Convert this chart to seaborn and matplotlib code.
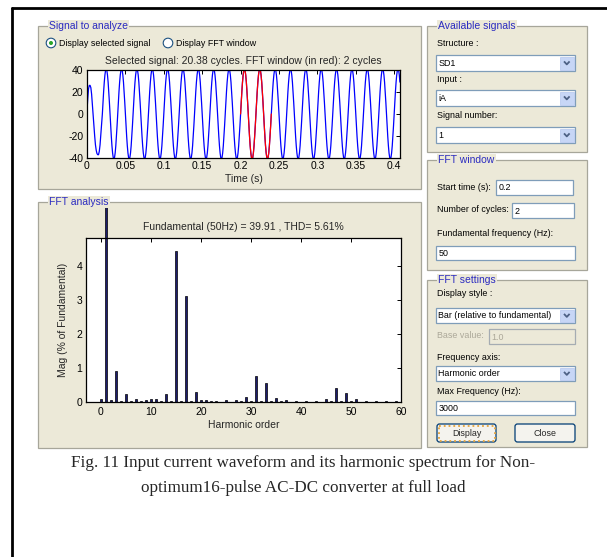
import numpy as np
import pandas as pd
import matplotlib
matplotlib.use("Agg")
import matplotlib.pyplot as plt
import seaborn as sns
from matplotlib.patches import Rectangle, FancyBboxPatch, Circle
from matplotlib.ticker import FormatStrFormatter
from matplotlib.transforms import Bbox, TransformedBbox

# --- signal to analyze ---
# start-up part, first 20 ms
t_start = [0.000, 0.001, 0.002, 0.003, 0.004, 0.005, 0.006, 0.007, 0.008, 0.009,
           0.010, 0.011, 0.012, 0.013, 0.014, 0.015, 0.016, 0.017, 0.018, 0.019]
i_start = [3, 14, 23, 26, 26, 24, 18, 9, -1, -11,
           -20, -28, -33, -36, -37, -37, -34, -28, -19, -9]
# one steady-state cycle (50 Hz), 24 samples
cycle_vals = [0, 10.6, 20.5, 29.0, 35.5, 39.6, 41.0, 39.6, 35.5, 29.0, 20.5, 10.6,
              0, -10.6, -20.5, -29.0, -35.5, -39.6, -41.0, -39.6, -35.5, -29.0, -20.5, -10.6]
cycle_t0 = 0.02
cycle_dt = 0.02 / 24
sig_end = 0.4076
fft_start = 0.2
fft_end = 0.24

# --- harmonic spectrum (% of fundamental) ---
orders = list(range(0, 61))
mags = [0.08, 100.0, 0.05, 0.92, 0.03, 0.24, 0.02, 0.10, 0.02, 0.07,
        0.08, 0.09, 0.02, 0.24, 0.02, 4.43, 0.02, 3.13, 0.02, 0.29,
        0.05, 0.07, 0.02, 0.03, 0.01, 0.05, 0.01, 0.05, 0.02, 0.15,
        0.04, 0.76, 0.03, 0.57, 0.02, 0.12, 0.02, 0.06, 0.01, 0.02,
        0.01, 0.02, 0.01, 0.02, 0.01, 0.10, 0.02, 0.40, 0.02, 0.27,
        0.02, 0.08, 0.01, 0.04, 0.01, 0.03, 0.01, 0.02, 0.01, 0.02, 0.01]

sig_title = "Selected signal: 20.38 cycles. FFT window (in red): 2 cycles"
fft_title = "Fundamental (50Hz) = 39.91 , THD= 5.61%"
caption1 = "Fig. 11 Input current waveform and its harmonic spectrum for Non-"
caption2 = "optimum16-pulse AC-DC converter at full load"

W, H = 607, 557
BEIGE = "#ECE9D8"
BLUE = "#2B2BC0"
GUI_FS = 6.4

sns.set_theme(style="white")
plt.rcParams['font.family'] = ['Liberation Sans', 'DejaVu Sans']
plt.rcParams['axes.unicode_minus'] = False

# build signal table
n_steady = int(round((sig_end - cycle_t0) / cycle_dt)) + 1
t_steady = [cycle_t0 + k * cycle_dt for k in range(n_steady)]
i_steady = [cycle_vals[k % len(cycle_vals)] for k in range(n_steady)]
sig = pd.DataFrame({"t": t_start + t_steady, "i": i_start + i_steady})
win = sig[(sig.t >= fft_start) & (sig.t <= fft_end)]
spec = pd.DataFrame({"order": orders, "mag": mags})

fig = plt.figure(figsize=(W / 100, H / 100), dpi=100)
fig.patch.set_facecolor("white")

# pixel-coordinate layer for the GUI controls
gui = fig.add_axes([0, 0, 1, 1], zorder=0)
gui.set_xlim(0, W)
gui.set_ylim(H, 0)
gui.axis("off")


def panel(x0, y0, x1, y1, title):
    gui.add_patch(Rectangle((x0, y0), x1 - x0, y1 - y0, facecolor=BEIGE,
                            edgecolor="#A7A69A", lw=0.9))
    gui.text(x0 + 11, y0, title, color=BLUE, fontsize=7.5, ha="left", va="center",
             bbox=dict(boxstyle="square,pad=0.12", fc=BEIGE, ec="none"))


def label(x, y, s, color="black"):
    gui.text(x, y, s, fontsize=GUI_FS, ha="left", va="center", color=color)


def textbox(x0, y0, x1, y1, s, disabled=False):
    gui.add_patch(Rectangle((x0, y0), x1 - x0, y1 - y0,
                            facecolor=BEIGE if disabled else "white",
                            edgecolor="#A5ACB2" if disabled else "#7F9DB9", lw=0.9))
    gui.text(x0 + 2.5, (y0 + y1) / 2 + 0.5, s, fontsize=GUI_FS, ha="left", va="center",
             color="#ACA899" if disabled else "black")


def dropdown(x0, y0, x1, y1, s):
    textbox(x0, y0, x1, y1, s)
    gui.add_patch(Rectangle((x1 - 15, y0 + 1.5), 13.5, y1 - y0 - 3,
                            facecolor="#C7D6F6", edgecolor="#B4C6EE", lw=0.5))
    yc = (y0 + y1) / 2
    gui.plot([x1 - 11, x1 - 8.2, x1 - 5.4], [yc - 1.6, yc + 1.4, yc - 1.6],
             color="#4D6185", lw=1.3, solid_capstyle="butt")


def button(x0, y0, x1, y1, s, focus=False):
    gui.add_patch(FancyBboxPatch((x0, y0), x1 - x0, y1 - y0,
                                 boxstyle="round,pad=0,rounding_size=2.5",
                                 facecolor="#F4F3EE", edgecolor="#003C74", lw=0.9))
    if focus:
        gui.add_patch(Rectangle((x0 + 1.5, y0 + 1.5), x1 - x0 - 3, y1 - y0 - 3,
                                facecolor="none", edgecolor="#E5A33A", lw=1.3, ls=":"))
    gui.text((x0 + x1) / 2, (y0 + y1) / 2 + 0.5, s, fontsize=GUI_FS,
             ha="center", va="center")


# outer frame
gui.plot([12, 12], [H, 8], color="black", lw=2)
gui.plot([12, W], [8, 8], color="black", lw=2)

# left panels
panel(38, 26, 421, 189, "Signal to analyze")
panel(38, 202, 421, 448, "FFT analysis")

# radio buttons
gui.add_patch(Circle((51, 43), 4.8, facecolor="white", edgecolor="#1C5180", lw=0.8))
gui.add_patch(Circle((51, 43), 2.0, facecolor="#2AA52A", edgecolor="none"))
label(59, 43, "Display selected signal")
gui.add_patch(Circle((168, 43), 4.8, facecolor="white", edgecolor="#1C5180", lw=0.8))
label(176, 43, "Display FFT window")

# right panels
panel(427, 26, 587, 152, "Available signals")
label(437, 44, "Structure :")
dropdown(436, 55, 575, 71, "SD1")
label(437, 80, "Input :")
dropdown(436, 90, 575, 106, "iA")
label(437, 115, "Signal number:")
dropdown(436, 127, 575, 143, "1")

panel(427, 160, 587, 270, "FFT window")
label(437, 188, "Start time (s):")
textbox(496, 180, 573, 195, "0.2")
label(437, 210, "Number of cycles:")
textbox(512, 203, 574, 218, "2")
label(437, 233, "Fundamental frequency (Hz):")
textbox(436, 246, 575, 260, "50")

panel(427, 280, 587, 447, "FFT settings")
label(437, 294, "Display style :")
dropdown(436, 308, 575, 323, "Bar (relative to fundamental)")
label(437, 336, "Base value:", color="#ACA899")
textbox(489, 329, 575, 344, "1.0", disabled=True)
label(437, 357, "Frequency axis:")
dropdown(436, 366, 575, 381, "Harmonic order")
label(437, 391, "Max Frequency (Hz):")
textbox(436, 401, 575, 415, "3000")
button(437, 424, 496, 442, "Display", focus=True)
button(515, 424, 575, 442, "Close")

# caption
gui.text(W / 2, 463, caption1, family=["Liberation Serif", "DejaVu Serif"],
         fontsize=12.3, ha="center", va="center")
gui.text(W / 2, 488, caption2, family=["Liberation Serif", "DejaVu Serif"],
         fontsize=12.3, ha="center", va="center")


def matlab_axes(ax):
    ax.set_facecolor("white")
    for sp in ax.spines.values():
        sp.set_color("black")
        sp.set_linewidth(0.9)
    ax.tick_params(direction="in", top=True, right=True, length=3, width=0.7,
                   labelsize=7.5, pad=2.5, colors="black")


# signal axes
ax1 = fig.add_axes([87 / W, 1 - 158 / H, 313 / W, 88 / H], zorder=2)
sns.lineplot(data=sig, x="t", y="i", ax=ax1, color="#0000FF", lw=0.9,
             sort=False, estimator=None)
sns.lineplot(data=win, x="t", y="i", ax=ax1, color="#FF0000", lw=0.9,
             sort=False, estimator=None)
ax1.set_xlim(0, sig_end)
ax1.set_ylim(-40, 40)
ax1.set_xticks([0, 0.05, 0.1, 0.15, 0.2, 0.25, 0.3, 0.35, 0.4])
ax1.set_yticks([-40, -20, 0, 20, 40])
ax1.xaxis.set_major_formatter(FormatStrFormatter("%g"))
matlab_axes(ax1)
ax1.set_xlabel("Time (s)", fontsize=7.5, labelpad=2)
ax1.set_ylabel("")
ax1.set_title(sig_title, fontsize=7.5, pad=4)

# spectrum axes
ax2 = fig.add_axes([86 / W, 1 - 402 / H, 315 / W, 164 / H], zorder=2)
sns.barplot(data=spec, x="order", y="mag", ax=ax2, native_scale=True, width=0.42,
            color="#1C1C6E", saturation=1, edgecolor="black", linewidth=0.5,
            errorbar=None)
ax2.set_xlim(-3, 60)
ax2.set_ylim(0, 4.82)
ax2.set_xticks([0, 10, 20, 30, 40, 50, 60])
ax2.set_yticks([0, 1, 2, 3, 4])
matlab_axes(ax2)
ax2.tick_params(axis="x", pad=3.5)
ax2.set_xlabel("Harmonic order", fontsize=7.5, labelpad=2)
ax2.set_ylabel("Mag (% of Fundamental)", fontsize=7.5, labelpad=6)
ax2.set_title(fft_title, fontsize=7.5, pad=6)

# fundamental bar sticks out of the axes, up to the panel title
clip = TransformedBbox(Bbox.from_extents(0, 1 - 402 / H, 1, 1 - 208 / H), fig.transFigure)
fund = ax2.patches[1]
fund.set_clip_path(None)
fund.set_clip_box(clip)

fig.savefig("out.png", dpi=100, facecolor="white")
